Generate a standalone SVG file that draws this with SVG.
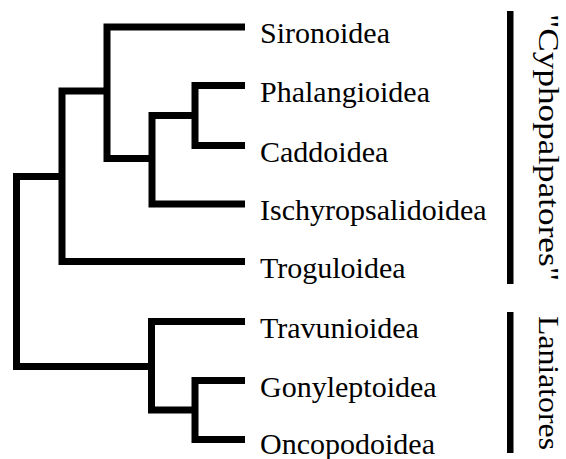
<svg xmlns="http://www.w3.org/2000/svg" width="566" height="459" viewBox="0 0 566 459">
<style>
.b{fill:none;stroke:#000;stroke-width:7;stroke-linejoin:miter;stroke-linecap:butt}
.t{font-family:"Liberation Serif","Times New Roman",serif;font-size:30px;fill:#000}
.bar{fill:#000}
</style>
<rect width="566" height="459" fill="#fff"/>
<g id="connectors">
<path class="b" d="M245 27 H107 V158.5 H152"/>
<path class="b" d="M245 85.5 H195 V145.5 H245"/>
<path class="b" d="M195 115.5 H152 V204 H245"/>
<path class="b" d="M107 91 H62 V261.5 H245"/>
<path class="b" d="M62 176.5 H16.5 V366.5 H151.5"/>
<path class="b" d="M245 321.5 H151.5 V410 H195"/>
<path class="b" d="M245 380.5 H195 V439.5 H245"/>
</g>
<g id="Sironoidea"><text class="t" x="260" y="43">Sironoidea</text></g>
<g id="Phalangioidea"><text class="t" x="260" y="101.5">Phalangioidea</text></g>
<g id="Caddoidea"><text class="t" x="260" y="161.5">Caddoidea</text></g>
<g id="Ischyropsalidoidea"><text class="t" x="260" y="220">Ischyropsalidoidea</text></g>
<g id="Troguloidea"><text class="t" x="260" y="277.5">Troguloidea</text></g>
<g id="Travunioidea"><text class="t" x="260" y="337.5">Travunioidea</text></g>
<g id="Gonyleptoidea"><text class="t" x="260" y="396.5">Gonyleptoidea</text></g>
<g id="Oncopodoidea"><text class="t" x="260" y="453.5">Oncopodoidea</text></g>
<g id="Cyphopalpatores">
<rect class="bar" x="507" y="11" width="6.5" height="273"/>
<text class="t" transform="translate(539,14) rotate(90)" x="0" y="0" textLength="267" lengthAdjust="spacingAndGlyphs">"Cyphopalpatores"</text>
</g>
<g id="Laniatores">
<rect class="bar" x="507" y="312" width="6.5" height="141"/>
<text class="t" transform="translate(539,316) rotate(90)" x="0" y="0" textLength="134" lengthAdjust="spacingAndGlyphs">Laniatores</text>
</g>
</svg>
